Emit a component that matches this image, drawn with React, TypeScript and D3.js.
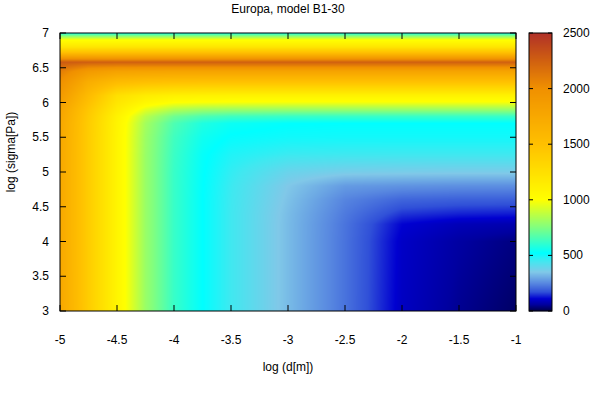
import { useMemo } from "react";
import * as d3 from "d3";

const logD = [-5, -4.75, -4.5, -4.25, -4, -3.75, -3.5, -3, -2.5, -2, -1.5, -1];
const logSigma = [3, 4, 4.25, 4.4, 4.6, 4.8, 5, 5.25, 5.5, 5.7, 5.8, 5.9, 6, 6.1, 6.3, 6.45, 6.52, 6.58, 6.65, 6.72, 6.8, 6.9, 6.96, 7];

// one row per logSigma value, one column per logD value
const values = [
  [1760, 1400, 1080, 800, 620, 520, 450, 330, 220, 95, 50, 20],
  [1750, 1400, 1080, 800, 620, 520, 450, 330, 220, 100, 62, 38],
  [1750, 1400, 1080, 800, 620, 520, 450, 330, 222, 112, 85, 75],
  [1750, 1400, 1080, 800, 620, 520, 450, 332, 230, 150, 135, 130],
  [1750, 1400, 1080, 800, 620, 520, 452, 340, 245, 200, 192, 190],
  [1750, 1400, 1080, 800, 620, 522, 455, 350, 280, 268, 262, 260],
  [1750, 1400, 1080, 800, 620, 525, 465, 385, 365, 362, 360, 360],
  [1750, 1400, 1080, 800, 625, 530, 485, 455, 451, 450, 450, 450],
  [1755, 1400, 1080, 805, 635, 548, 515, 502, 500, 500, 500, 500],
  [1760, 1405, 1085, 820, 660, 575, 540, 523, 520, 520, 520, 520],
  [1780, 1420, 1100, 860, 720, 660, 635, 622, 620, 620, 620, 620],
  [1800, 1450, 1150, 950, 850, 815, 805, 800, 800, 800, 800, 800],
  [1850, 1500, 1200, 1060, 1000, 990, 985, 980, 980, 980, 980, 980],
  [1900, 1550, 1250, 1150, 1115, 1105, 1100, 1100, 1100, 1100, 1100, 1100],
  [2000, 1700, 1560, 1520, 1505, 1500, 1500, 1500, 1500, 1500, 1500, 1500],
  [2100, 1900, 1820, 1805, 1800, 1800, 1800, 1800, 1800, 1800, 1800, 1800],
  [2200, 2080, 2055, 2050, 2050, 2050, 2050, 2050, 2050, 2050, 2050, 2050],
  [2280, 2260, 2250, 2250, 2250, 2250, 2250, 2250, 2250, 2250, 2250, 2250],
  [1880, 1860, 1850, 1850, 1850, 1850, 1850, 1850, 1850, 1850, 1850, 1850],
  [1500, 1500, 1500, 1500, 1500, 1500, 1500, 1500, 1500, 1500, 1500, 1500],
  [1200, 1200, 1200, 1200, 1200, 1200, 1200, 1200, 1200, 1200, 1200, 1200],
  [1000, 1000, 1000, 1000, 1000, 1000, 1000, 1000, 1000, 1000, 1000, 1000],
  [750, 750, 750, 750, 750, 750, 750, 750, 750, 750, 750, 750],
  [560, 560, 560, 560, 560, 560, 560, 560, 560, 560, 560, 560],
];

const xTicks = [-5, -4.5, -4, -3.5, -3, -2.5, -2, -1.5, -1];
const yTicks = [3, 3.5, 4, 4.5, 5, 5.5, 6, 6.5, 7];
const cbTicks = [0, 500, 1000, 1500, 2000, 2500];

const paletteStops = [0, 60, 110, 170, 250, 350, 450, 520, 750, 1000, 1500, 2000, 2250, 2500];
const paletteColors = ["#000048", "#0000a0", "#0000d0", "#3050d8", "#5888e0", "#80c8e8", "#40e8f0", "#00ffff", "#80ff80", "#ffff00", "#ffc000", "#f09000", "#d06010", "#b03028"];

const W = 601, H = 394;
const m = { left: 60, right: 516, top: 33, bottom: 311 };
const cb = { left: 529, right: 552 };
const font = "'Liberation Sans', Arial, sans-serif";

const color = d3.scaleLinear<string>().domain(paletteStops).range(paletteColors).clamp(true);

function sample(xv: number, yv: number) {
  const i = Math.min(Math.max(d3.bisectRight(logD, xv) - 1, 0), logD.length - 2);
  const j = Math.min(Math.max(d3.bisectRight(logSigma, yv) - 1, 0), logSigma.length - 2);
  const tx = (xv - logD[i]) / (logD[i + 1] - logD[i]);
  const ty = (yv - logSigma[j]) / (logSigma[j + 1] - logSigma[j]);
  const a = values[j][i] * (1 - tx) + values[j][i + 1] * tx;
  const b = values[j + 1][i] * (1 - tx) + values[j + 1][i + 1] * tx;
  return a * (1 - ty) + b * ty;
}

export default function App() {
  const x = d3.scaleLinear().domain([-5, -1]).range([m.left, m.right]);
  const y = d3.scaleLinear().domain([3, 7]).range([m.bottom, m.top]);
  const c = d3.scaleLinear().domain([0, 2500]).range([m.bottom, m.top]);

  const img = useMemo(() => {
    const w = m.right - m.left, h = m.bottom - m.top;
    const canvas = document.createElement("canvas");
    canvas.width = w;
    canvas.height = h;
    const ctx = canvas.getContext("2d")!;
    const data = ctx.createImageData(w, h);
    for (let py = 0; py < h; py++) {
      const yv = y.invert(m.top + py + 0.5);
      for (let px = 0; px < w; px++) {
        const xv = x.invert(m.left + px + 0.5);
        const col = d3.rgb(color(sample(xv, yv)));
        const k = (py * w + px) * 4;
        data.data[k] = col.r;
        data.data[k + 1] = col.g;
        data.data[k + 2] = col.b;
        data.data[k + 3] = 255;
      }
    }
    ctx.putImageData(data, 0, 0);
    return canvas.toDataURL();
  }, []);

  const cbRows = d3.range(m.top, m.bottom);
  const tl = 6;

  return (
    <svg width={W} height={H} style={{ position: "absolute", left: 0, top: 0, background: "#fff" }} fontFamily={font} fontSize={12}>
      <text x={288} y={13} textAnchor="middle">Europa, model B1-30</text>
      <image href={img} x={m.left} y={m.top} width={m.right - m.left} height={m.bottom - m.top} preserveAspectRatio="none" />
      {xTicks.map(t => (
        <g key={"x" + t}>
          <line x1={x(t)} x2={x(t)} y1={m.bottom} y2={m.bottom - tl} stroke="#000" />
          <line x1={x(t)} x2={x(t)} y1={m.top} y2={m.top + tl} stroke="#000" />
          <text x={x(t)} y={344} textAnchor="middle">{t}</text>
        </g>
      ))}
      {yTicks.map(t => (
        <g key={"y" + t}>
          <line x1={m.left} x2={m.left + tl} y1={y(t)} y2={y(t)} stroke="#000" />
          <line x1={m.right} x2={m.right - tl} y1={y(t)} y2={y(t)} stroke="#000" />
          <text x={49} y={y(t) + 4} textAnchor="end">{t}</text>
        </g>
      ))}
      <rect x={m.left} y={m.top} width={m.right - m.left} height={m.bottom - m.top} fill="none" stroke="#000" />
      <text x={288} y={371} textAnchor="middle">log (d[m])</text>
      <text transform={`translate(15,${(m.top + m.bottom) / 2 - 20}) rotate(-90)`} textAnchor="middle">log (sigma[Pa])</text>

      {cbRows.map(py => (
        <rect key={py} x={cb.left} y={py} width={cb.right - cb.left} height={1.2} fill={color(c.invert(py + 0.5))} />
      ))}
      <rect x={cb.left} y={m.top} width={cb.right - cb.left} height={m.bottom - m.top} fill="none" stroke="#000" />
      {cbTicks.map(t => (
        <g key={"c" + t}>
          <line x1={cb.left} x2={cb.left + 4} y1={c(t)} y2={c(t)} stroke="#000" />
          <line x1={cb.right} x2={cb.right - 4} y1={c(t)} y2={c(t)} stroke="#000" />
          <text x={563} y={c(t) + 4}>{t}</text>
        </g>
      ))}
    </svg>
  );
}
